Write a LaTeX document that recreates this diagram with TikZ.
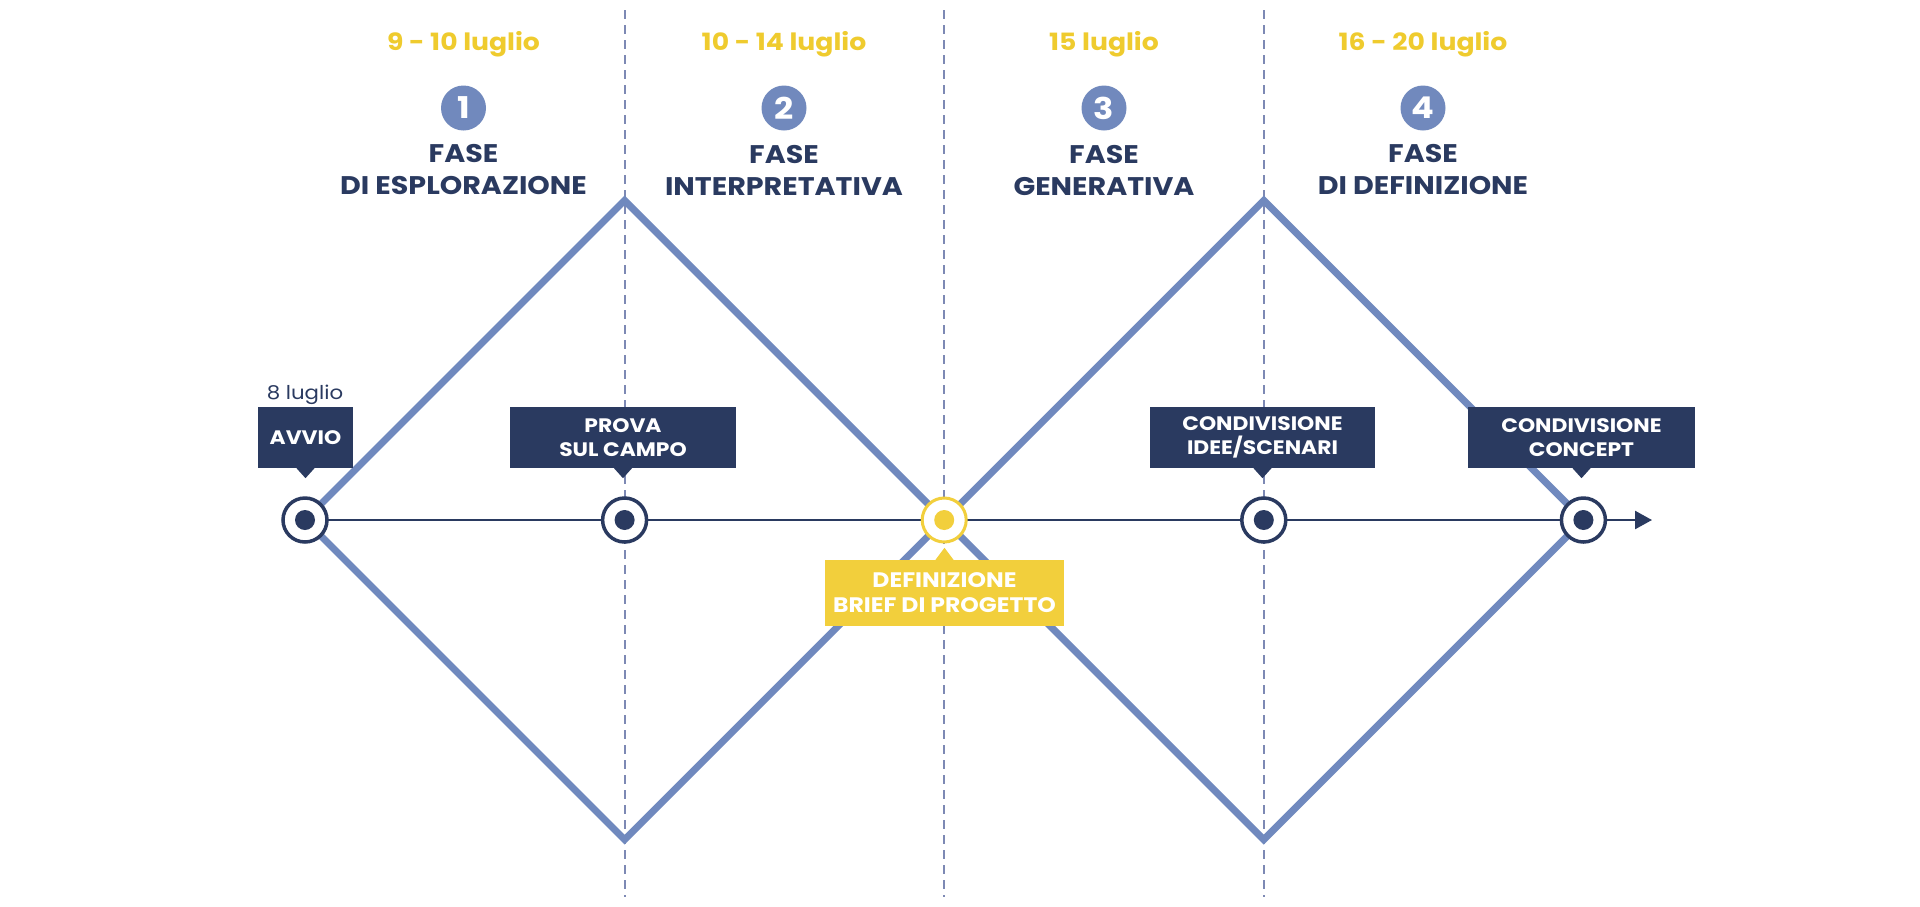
\documentclass[tikz,border=0pt]{standalone}
\usepackage{fontspec}
\setmainfont{Poppins}[FakeStretch=1.12]
\usetikzlibrary{arrows.meta,calc}
\definecolor{navy}{HTML}{2A3A60}
\definecolor{dblue}{HTML}{7089BE}
\definecolor{numblue}{HTML}{7189BD}
\definecolor{dashc}{HTML}{7D89B4}
\definecolor{ylw}{HTML}{F2CF3C}
\definecolor{ytext}{HTML}{EFCB2E}
\begin{document}
\begin{tikzpicture}[x=1pt,y=-1pt,
  diam/.style={draw=dblue,line width=7pt,line join=miter},
  vdash/.style={draw=dashc,line width=2pt,dash pattern=on 9pt off 6pt},
  tl/.style={draw=navy,line width=2.5pt},
  milestone/.style={circle,draw=navy,fill=white,line width=3.5pt,minimum size=44pt,inner sep=0pt},
  ymilestone/.style={circle,draw=ylw,fill=white,line width=3pt,minimum size=44pt,inner sep=0pt},
  lbl/.style={fill=navy,text=white,align=center,inner sep=0pt,minimum height=61pt,
    font=\bfseries\fontsize{19.5}{24}\selectfont},
  ylbl/.style={fill=ylw,text=white,align=center,inner sep=0pt,minimum height=66pt,
    font=\bfseries\fontsize{21}{25}\selectfont},
  numc/.style={circle,fill=numblue,text=white,minimum size=45pt,inner sep=0pt,
    font=\bfseries\fontsize{30}{30}\selectfont},
  datelbl/.style={text=ytext,font=\bfseries\fontsize{23.8}{24}\selectfont},
  phase/.style={text=navy,align=center,font=\bfseries\fontsize{25.5}{32}\selectfont},
  small/.style={text=navy,font=\fontsize{19}{19}\selectfont}
]
\fill[white] (0,0) rectangle (1920,906);
\path[use as bounding box] (0,0) rectangle (1920,906);

% coordinates
\coordinate (v0) at (305,520);
\coordinate (v1) at (624.6,520);
\coordinate (v2) at (944.2,520);
\coordinate (v3) at (1263.8,520);
\coordinate (v4) at (1583.4,520);
\coordinate (t1) at (624.6,200.4);
\coordinate (b1) at (624.6,839.6);
\coordinate (t2) at (1263.8,200.4);
\coordinate (b2) at (1263.8,839.6);
\coordinate (tend) at (1652,520);

% dashed separators
\foreach \x/\n in {624.6/a,944.2/b,1263.8/c}{
  \coordinate (dtop\n) at (\x,10);
  \coordinate (dbot\n) at (\x,897);
  \draw[vdash] (dtop\n) -- (dbot\n);
}

% diamonds
\draw[diam] (v0) -- (t1) -- (v2) -- (b1) -- cycle;
\draw[diam] (v2) -- (t2) -- (v4) -- (b2) -- cycle;

% timeline
\draw[tl,-{Triangle[length=17pt,width=18pt]}] (v0) -- (tend);

% milestones
\node[milestone] (c0) at (v0) {};
\node[milestone] (c1) at (v1) {};
\node[ymilestone] (c2) at (v2) {};
\node[milestone] (c3) at (v3) {};
\node[milestone] (c4) at (v4) {};
\fill[navy] (c0.center) circle (10pt);
\fill[navy] (c1.center) circle (10pt);
\fill[ylw] (c2.center) circle (10pt);
\fill[navy] (c3.center) circle (10pt);
\fill[navy] (c4.center) circle (10pt);

% label boxes
\node[lbl,minimum width=95pt] (avvio) at (305.5,437.5) {AVVIO};
\node[lbl,minimum width=226pt] (prova) at (623,437.5) {PROVA\\SUL CAMPO};
\node[lbl,minimum width=225pt] (idee) at (1262.5,437.5) {CONDIVISIONE\\IDEE/SCENARI};
\node[lbl,minimum width=227pt] (concept) at (1581.5,437.5) {CONDIVISIONE\\CONCEPT};
\node[ylbl,minimum width=239pt] (brief) at (944.5,593) {DEFINIZIONE\\BRIEF DI PROGETTO};

\foreach \b/\c in {avvio/c0,prova/c1,idee/c3,concept/c4}{
  \fill[navy] ($(\b.south)+(-9,0)$) -- ($(\b.south)+(0,10)$) -- ($(\b.south)+(9,0)$) -- cycle;
}
\fill[ylw] ($(brief.north)+(-9,0)$) -- ($(brief.north)+(0,-12)$) -- ($(brief.north)+(9,0)$) -- cycle;

\node[small] (start) at (305,395) {8 luglio};

% headers
\node[datelbl] (d1) at (463.5,44) {9 - 10 luglio};
\node[datelbl] (d2) at (784,44) {10 - 14 luglio};
\node[datelbl] (d3) at (1104,44) {15 luglio};
\node[datelbl] (d4) at (1423,44) {16 - 20 luglio};

\node[numc] (n1) at (463.5,108) {1};
\node[numc] (n2) at (784,108) {2};
\node[numc] (n3) at (1104,108) {3};
\node[numc] (n4) at (1423,108) {4};

\node[phase] (p1) at (463.5,170) {FASE\\DI ESPLORAZIONE};
\node[phase] (p2) at (784,170) {FASE\\INTERPRETATIVA};
\node[phase] (p3) at (1104,170) {FASE\\GENERATIVA};
\node[phase] (p4) at (1423,170) {FASE\\DI DEFINIZIONE};
\end{tikzpicture}
\end{document}
